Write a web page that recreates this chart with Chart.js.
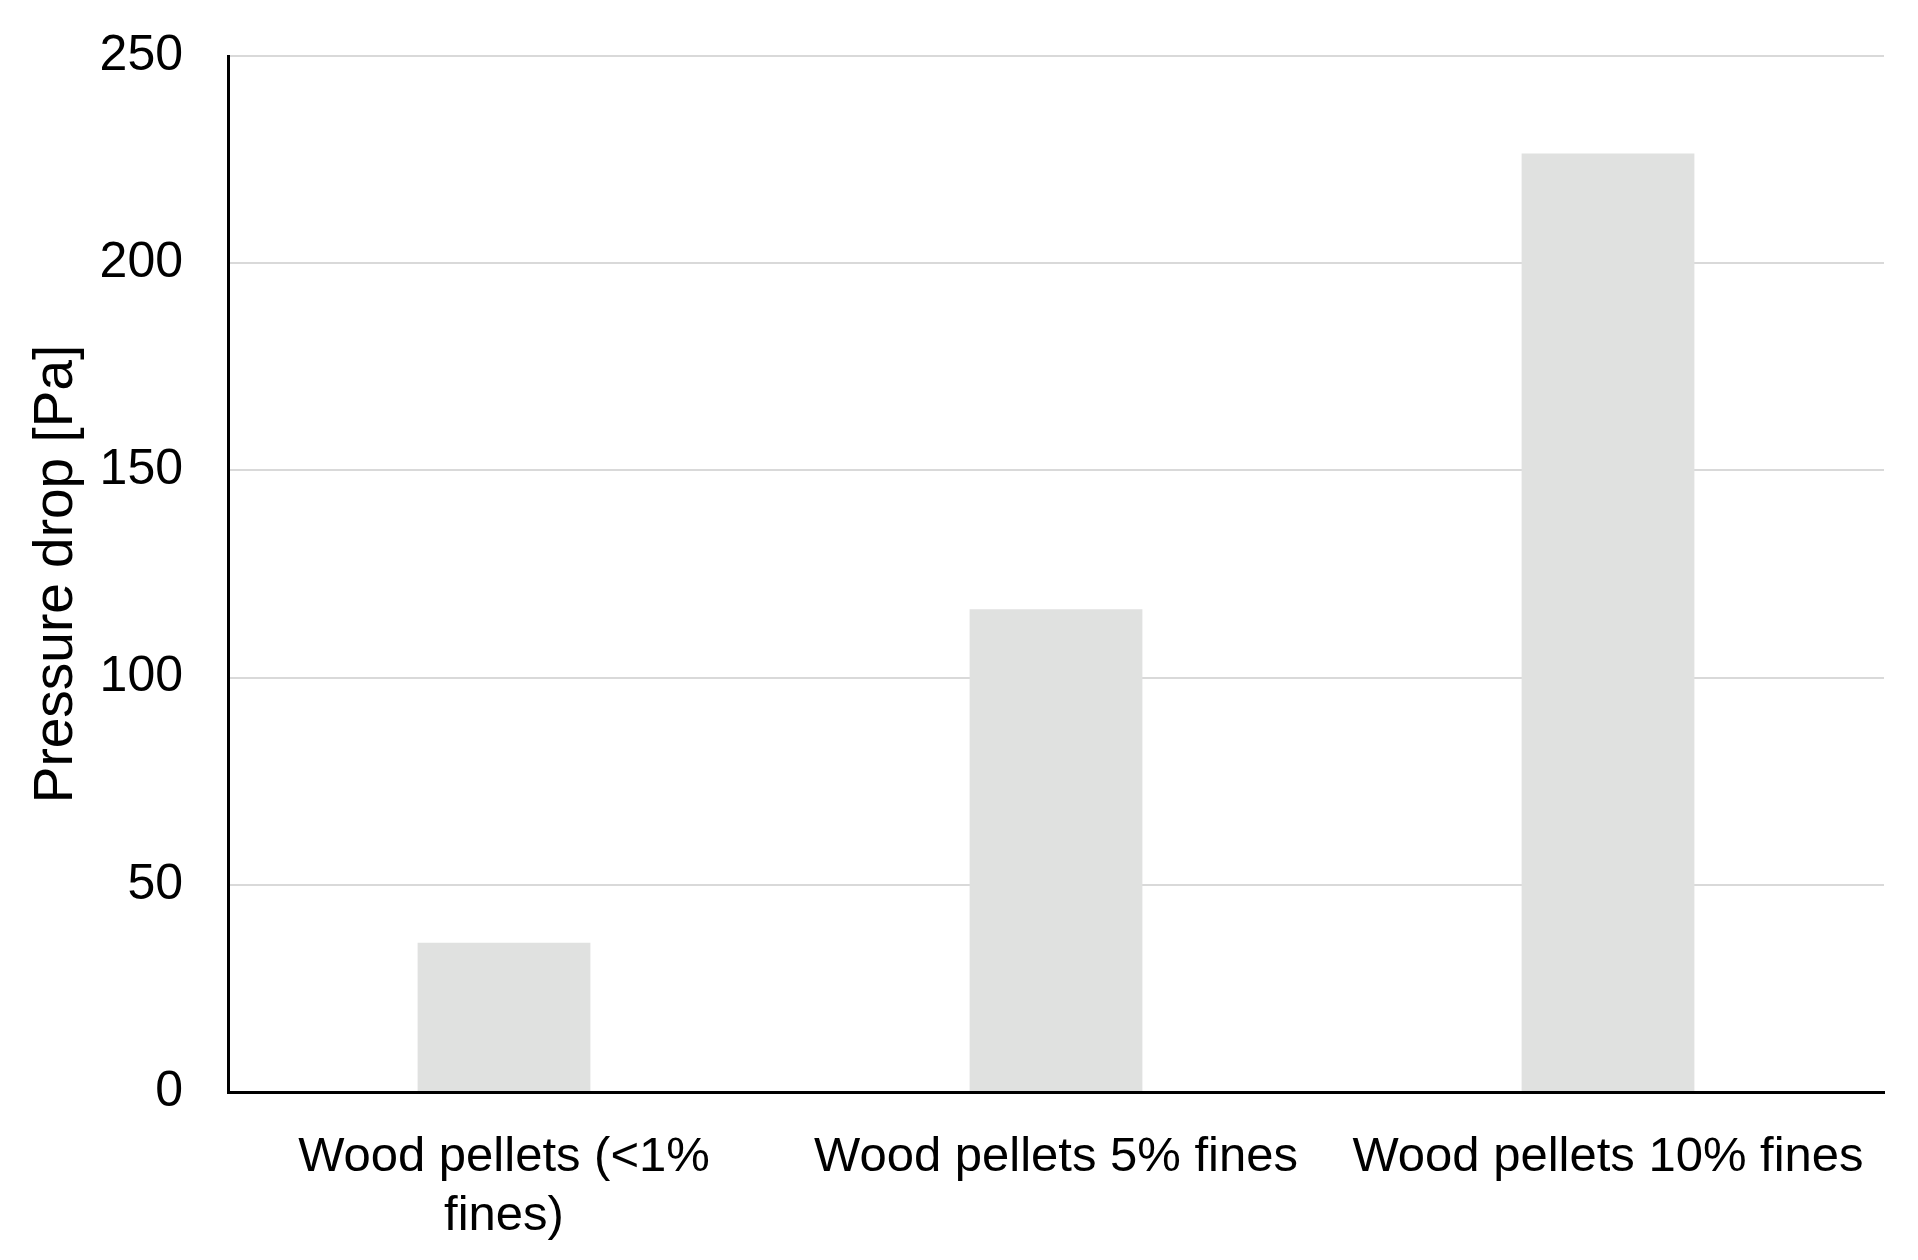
<!DOCTYPE html>
<html>
<head>
<meta charset="utf-8">
<script src="https://cdn.jsdelivr.net/npm/chart.js@4/dist/chart.umd.min.js"></script>
<style>
  html, body { margin: 0; padding: 0; background: #ffffff; }
  #wrap { width: 1918px; height: 1260px; }
</style>
</head>
<body>
<div id="wrap"><canvas id="grafico"></canvas></div>
<script>
// Categorias (eixo x), rótulo quebrado em duas linhas como no original
const categorias = [
    ['Wood pellets (<1%', 'fines)'],
    'Wood pellets 5% fines',
    'Wood pellets 10% fines'
]
// Queda de pressão [Pa]
const quedaPressao = [36, 116.5, 226.5]
// Escala do eixo y
const yMin = 0
const yMax = 250
const yPasso = 50

const fonte = '"Liberation Sans", Arial, sans-serif'

const ctx = document.getElementById('grafico').getContext('2d')
new Chart(ctx, {
    type: 'bar',
    data: {
        labels: categorias,
        datasets: [{
            label: 'Pressure drop',
            data: quedaPressao,
            backgroundColor: '#e0e1e0',
            borderWidth: 0,
            barPercentage: 0.313,
            categoryPercentage: 1
        }]
    },
    options: {
        responsive: true,
        maintainAspectRatio: false,
        animation: false,
        layout: {
            padding: { left: 12, right: 34, top: 56, bottom: 0 }
        },
        plugins: {
            legend: { display: false },
            tooltip: { enabled: false }
        },
        scales: {
            x: {
                grid: { display: false },
                border: { display: true, color: '#000000', width: 3 },
                ticks: {
                    color: '#000000',
                    font: { family: fonte, size: 49 },
                    padding: 28,
                    maxRotation: 0,
                    autoSkip: false
                },
                // altura fixa da área de rótulos abaixo do eixo
                afterFit: function (escala) {
                    escala.height = 168
                }
            },
            y: {
                min: yMin,
                max: yMax,
                grid: {
                    color: '#d9d9d9',
                    lineWidth: 2,
                    drawTicks: false
                },
                border: { display: true, color: '#000000', width: 3 },
                ticks: {
                    stepSize: yPasso,
                    color: '#000000',
                    font: { family: fonte, size: 50 },
                    padding: 45
                },
                title: {
                    display: true,
                    text: 'Pressure drop [Pa]',
                    color: '#000000',
                    font: { family: fonte, size: 55 },
                    padding: { top: 12, bottom: 12 }
                },
                // largura fixa para o eixo ficar em x = 228, sem folga extra no topo
                afterFit: function (escala) {
                    escala.width = 216
                    escala.paddingTop = 0
                    escala.paddingBottom = 0
                }
            }
        }
    }
})
</script>
</body>
</html>
